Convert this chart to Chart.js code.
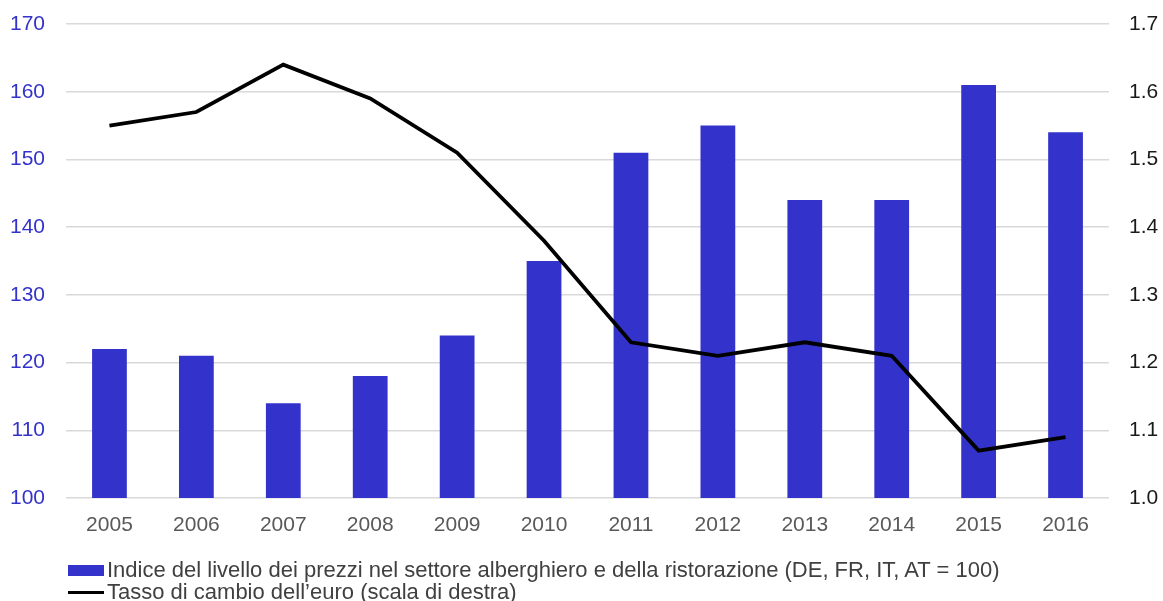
<!DOCTYPE html>
<html lang="it">
<head>
<meta charset="utf-8">
<script src="https://cdn.jsdelivr.net/npm/chart.js@4/dist/chart.umd.min.js"></script>
<style>
  html, body { margin: 0; padding: 0; background: #fff; overflow: hidden; }
  #wrap { position: relative; width: 1163px; height: 601px; overflow: hidden; }
  #c { position: absolute; left: 0; top: 0; }
  #legend { position: absolute; left: 68px; top: 559px; font-family: "Liberation Sans", Arial, sans-serif; font-size: 22px; color: #404040; }
  .item { display: flex; align-items: center; height: 22px; line-height: 22px; white-space: nowrap; }
  .swatch { width: 36px; margin-right: 3px; flex: none; }
</style>
</head>
<body>
<div id="wrap">
  <canvas id="c" width="1163" height="601"></canvas>
  <div id="legend"></div>
</div>
<script>
// Years on the category axis
const years = ['2005','2006','2007','2008','2009','2010','2011','2012','2013','2014','2015','2016'];
// Price-level index for hotels and restaurants (DE, FR, IT, AT = 100) – left scale
const priceIndex = [122, 121, 114, 118, 124, 135, 151, 155, 144, 144, 161, 154];
// Euro exchange rate – right scale
const euroRate = [1.55, 1.57, 1.64, 1.59, 1.51, 1.38, 1.23, 1.21, 1.23, 1.21, 1.07, 1.09];
// Series labels
const priceLabel = 'Indice del livello dei prezzi nel settore alberghiero e della ristorazione (DE, FR, IT, AT = 100)';
const rateLabel = 'Tasso di cambio dell\u2019euro (scala di destra)';

const BLUE = '#3333cc';
const FONT = '"Liberation Sans", Arial, sans-serif';

// Fixed axis box sizes, with no extra room reserved for label overflow
const fixWidth = w => s => { s.width = w; s.paddingTop = 0; s.paddingBottom = 0; };
const fixHeight = h => s => { s.height = h; s.paddingLeft = 0; s.paddingRight = 0; };

const chart = new Chart(document.getElementById('c'), {
  data: {
    labels: years,
    datasets: [
      {
        type: 'line',
        label: rateLabel,
        data: euroRate,
        yAxisID: 'yRight',
        borderColor: '#000000',
        backgroundColor: '#000000',
        borderWidth: 3.8,
        pointRadius: 0,
        tension: 0,
        order: 0
      },
      {
        type: 'bar',
        label: priceLabel,
        data: priceIndex,
        yAxisID: 'yLeft',
        backgroundColor: BLUE,
        categoryPercentage: 1,
        barPercentage: 0.4,
        order: 1
      }
    ]
  },
  options: {
    responsive: false,
    animation: false,
    layout: { padding: { top: 24, left: 0, right: 0, bottom: 0 } },
    plugins: { legend: { display: false }, tooltip: { enabled: false } },
    scales: {
      x: {
        grid: { display: false, drawTicks: false },
        border: { display: false },
        ticks: { color: '#595959', font: { family: FONT, size: 21 }, padding: 15 },
        afterFit: fixHeight(103)
      },
      yLeft: {
        position: 'left',
        min: 100, max: 170,
        ticks: { stepSize: 10, color: BLUE, font: { family: FONT, size: 21 }, padding: 21 },
        grid: { color: '#d9d9d9', lineWidth: 1.5, drawTicks: false },
        border: { display: false },
        afterFit: fixWidth(66)
      },
      yRight: {
        position: 'right',
        min: 1.0, max: 1.7,
        ticks: {
          stepSize: 0.1, color: '#1a1a1a', font: { family: FONT, size: 21 }, padding: 20,
          callback: v => Number(v).toFixed(1)
        },
        grid: { display: false, drawTicks: false },
        border: { display: false },
        afterFit: fixWidth(54)
      }
    }
  }
});

// Legend built from the datasets, bar series first
const legend = document.getElementById('legend');
[chart.data.datasets[1], chart.data.datasets[0]].forEach(ds => {
  const row = document.createElement('div');
  row.className = 'item';
  const sw = document.createElement('span');
  sw.className = 'swatch';
  if (ds.type === 'bar') {
    sw.style.height = '11px';
    sw.style.background = ds.backgroundColor;
  } else {
    sw.style.height = '3px';
    sw.style.background = ds.borderColor;
  }
  const tx = document.createElement('span');
  tx.textContent = ds.label;
  row.appendChild(sw);
  row.appendChild(tx);
  legend.appendChild(row);
});
</script>
</body>
</html>
